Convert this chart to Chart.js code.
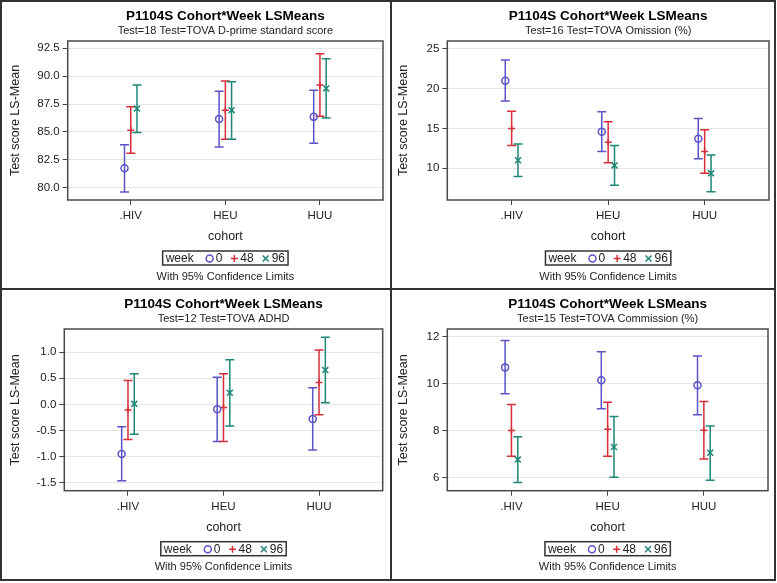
<!DOCTYPE html>
<html>
<head>
<meta charset="utf-8">
<script src="https://cdn.jsdelivr.net/npm/chart.js@4.4.1/dist/chart.umd.min.js"></script>
<style>
  body { margin: 0; background: #fff; }
  #wrap { position: relative; width: 777px; height: 583px; }
  #wrap canvas { position: absolute; }
  .rule { position: absolute; background: #333; }
</style>
</head>
<body>
<div id="wrap">
  <canvas id="c1" width="390" height="288" style="left:0;top:0"></canvas>
  <canvas id="c2" width="389" height="288" style="left:388px;top:0"></canvas>
  <canvas id="c3" width="390" height="292" style="left:0;top:288px"></canvas>
  <canvas id="c4" width="389" height="292" style="left:388px;top:288px"></canvas>
  <div class="rule" style="left:0;top:0;width:776px;height:2px"></div>
  <div class="rule" style="left:0;top:579px;width:776px;height:2px"></div>
  <div class="rule" style="left:0;top:0;width:2px;height:581px"></div>
  <div class="rule" style="left:774px;top:0;width:2px;height:581px"></div>
  <div class="rule" style="left:390px;top:0;width:2px;height:581px"></div>
  <div class="rule" style="left:0;top:288px;width:776px;height:2px"></div>
</div>
<script>
const cohorts = ['.HIV', 'HEU', 'HUU'];
const weeks = ['0', '48', '96'];
const titleText = 'P1104S Cohort*Week LSMeans';

// rows: week 0, 48, 96 -- columns: .HIV, HEU, HUU
const dprimeMean  = [[81.75, 86.15, 86.35], [85.15, 86.95, 89.2], [87.1, 86.95, 88.9]];
const dprimeLower = [[79.62, 83.65, 83.98], [83.1, 84.35, 86.4], [84.95, 84.35, 86.25]];
const dprimeUpper = [[83.85, 88.65, 88.73], [87.25, 89.57, 92.0], [89.2, 89.5, 91.55]];
const dprimeTicks = [80, 82.5, 85, 87.5, 90, 92.5];

const omissionMean  = [[21.0, 14.6, 13.7], [15.0, 13.25, 12.1], [11.0, 10.35, 9.35]];
const omissionLower = [[18.45, 12.1, 11.2], [12.85, 10.7, 9.35], [8.95, 7.85, 7.05]];
const omissionUpper = [[23.6, 17.1, 16.25], [17.15, 15.85, 14.85], [13.05, 12.85, 11.65]];
const omissionTicks = [10, 15, 20, 25];

const adhdMean  = [[-0.95, -0.095, -0.28], [-0.11, -0.06, 0.42], [0.01, 0.22, 0.655]];
const adhdLower = [[-1.46, -0.71, -0.87], [-0.67, -0.71, -0.2], [-0.57, -0.415, 0.03]];
const adhdUpper = [[-0.43, 0.52, 0.315], [0.455, 0.585, 1.04], [0.585, 0.85, 1.28]];
const adhdTicks = [-1.5, -1, -0.5, 0, 0.5, 1];

const commissionMean  = [[10.7, 10.15, 9.94], [8.0, 8.06, 8.01], [6.76, 7.3, 7.05]];
const commissionLower = [[9.57, 8.93, 8.68], [6.9, 6.9, 6.78], [5.78, 6.0, 5.88]];
const commissionUpper = [[11.85, 11.37, 11.19], [9.11, 9.21, 9.24], [7.74, 8.6, 8.2]];
const commissionTicks = [6, 8, 10, 12];

const weekColors = ['#5b53c6', '#d52f3b', '#1d8676'];
const weekMarkers = ['circle', 'cross', 'crossRot'];
const markerSize = [3.5, 3.5, 4.2];
const dodge = [-0.066, 0, 0.066];

Chart.defaults.font.family = '"Liberation Sans", Arial, sans-serif';
Chart.defaults.color = '#222';

function drawMarker(ctx, style, r, x, y) {
  ctx.beginPath();
  if (style === 'circle') {
    ctx.arc(x, y, r, 0, Math.PI * 2);
  } else if (style === 'cross') {
    ctx.moveTo(x - r, y); ctx.lineTo(x + r, y);
    ctx.moveTo(x, y - r); ctx.lineTo(x, y + r);
  } else {
    const d = r * Math.SQRT1_2;
    ctx.moveTo(x - d, y - d); ctx.lineTo(x + d, y + d);
    ctx.moveTo(x - d, y + d); ctx.lineTo(x + d, y - d);
  }
  ctx.stroke();
}

const lsExtras = {
  id: 'lsExtras',
  beforeDatasetsDraw(chart) {
    const { ctx, chartArea: a, scales: { x, y } } = chart;
    ctx.save();
    ctx.lineWidth = 1.5;
    chart.data.datasets.forEach(ds => {
      ctx.strokeStyle = ds.borderColor;
      ds.data.forEach(d => {
        const px = x.getPixelForValue(d.x);
        const yt = y.getPixelForValue(d.hi);
        const yb = y.getPixelForValue(d.lo);
        ctx.beginPath();
        ctx.moveTo(px, yt); ctx.lineTo(px, yb);
        ctx.moveTo(px - 4.5, yt); ctx.lineTo(px + 4.5, yt);
        ctx.moveTo(px - 4.5, yb); ctx.lineTo(px + 4.5, yb);
        ctx.stroke();
      });
    });
    ctx.strokeStyle = '#4a4a4a';
    ctx.strokeRect(a.left, a.top, a.width, a.height);
    ctx.restore();
  },
  afterDraw(chart) {
    const { ctx, chartArea: a } = chart;
    const cx = (a.left + a.right) / 2;
    ctx.save();
    ctx.font = '12px "Liberation Sans", Arial, sans-serif';
    ctx.textBaseline = 'middle';
    const wWeek = ctx.measureText('week').width;
    const items = chart.data.datasets.map(ds => ({ ds, w: ctx.measureText(ds.label).width }));
    let total = 3 + wWeek + 12 + 3;
    items.forEach((it, i) => { total += 8 + 2 + it.w + (i ? 8 : 0); });
    const left = cx - total / 2;
    const top = a.bottom + 51;
    const midY = top + 7.5;
    ctx.strokeStyle = '#333';
    ctx.lineWidth = 1.5;
    ctx.strokeRect(left, top, total, 14);
    ctx.fillStyle = '#222';
    ctx.fillText('week', left + 3, midY);
    let xx = left + 3 + wWeek + 12;
    items.forEach((it, i) => {
      ctx.strokeStyle = it.ds.borderColor;
      ctx.lineWidth = 1.5;
      drawMarker(ctx, it.ds.pointStyle, it.ds.pointRadius, xx + 4, midY);
      ctx.fillStyle = '#222';
      ctx.fillText(it.ds.label, xx + 10, midY);
      xx += 10 + it.w + 8;
    });
    ctx.font = '11px "Liberation Sans", Arial, sans-serif';
    ctx.textAlign = 'center';
    ctx.fillText('With 95% Confidence Limits', cx, a.bottom + 76.5);
    ctx.restore();
  }
};

function makeChart(p) {
  const datasets = weeks.map((w, k) => ({
    label: w,
    data: cohorts.map((c, i) => ({
      x: i + 1 + dodge[k], y: p.mean[k][i], lo: p.lower[k][i], hi: p.upper[k][i]
    })),
    borderColor: weekColors[k],
    backgroundColor: 'rgba(0,0,0,0)',
    pointStyle: weekMarkers[k],
    pointRadius: markerSize[k],
    pointBorderWidth: 1.5
  }));

  new Chart(document.getElementById(p.id), {
    type: 'scatter',
    data: { datasets },
    options: {
      responsive: false,
      animation: false,
      layout: { padding: { top: 0, left: 0, right: p.padR, bottom: p.padB } },
      scales: {
        x: {
          type: 'linear',
          min: 1 / 3,
          max: 11 / 3,
          afterBuildTicks: s => { s.ticks = cohorts.map((c, i) => ({ value: i + 1 })); },
          afterFit: s => { s.height = 48; },
          ticks: { callback: (v, i) => cohorts[i], font: { size: 11.5 }, color: '#222', padding: 4, autoSkip: false, maxRotation: 0 },
          grid: { drawOnChartArea: false, tickLength: 5, color: '#444', lineWidth: 1 },
          border: { display: false },
          title: { display: true, text: 'cohort', font: { size: 12.5 }, color: '#222', padding: { top: 0, bottom: 4 } }
        },
        y: {
          min: p.yMin,
          max: p.yMax,
          afterBuildTicks: s => { s.ticks = p.ticks.map(v => ({ value: v })); },
          afterFit: s => { s.width = p.yw; },
          ticks: { callback: v => v.toFixed(p.dec), font: { size: 11.5 }, color: '#222', padding: 3 },
          grid: { color: '#e6e6e6', tickColor: '#444', tickLength: 5, lineWidth: 1 },
          border: { display: false },
          title: { display: true, text: 'Test score LS-Mean', font: { size: 12.5 }, color: '#222', padding: { top: 8.2, bottom: 0 } }
        }
      },
      plugins: {
        legend: { display: false },
        tooltip: { enabled: false },
        title: { display: true, fullSize: false, text: titleText, font: { size: 13.5, weight: 'bold' }, color: '#000', padding: { top: 7.9, bottom: 0 } },
        subtitle: { display: true, fullSize: false, text: p.sub, font: { size: 11 }, color: '#222', padding: { top: 0.3, bottom: 3.4 } }
      }
    },
    plugins: [lsExtras]
  });
}

makeChart({ id: 'c1', sub: 'Test=18 Test=TOVA D-prime standard score', mean: dprimeMean, lower: dprimeLower, upper: dprimeUpper,
  ticks: dprimeTicks, dec: 1, yMin: 78.9, yMax: 93.15, yw: 67.7, padR: 7, padB: 40 });
makeChart({ id: 'c2', sub: 'Test=16 Test=TOVA Omission (%)', mean: omissionMean, lower: omissionLower, upper: omissionUpper,
  ticks: omissionTicks, dec: 0, yMin: 6, yMax: 26, yw: 59.3, padR: 8, padB: 40 });
makeChart({ id: 'c3', sub: 'Test=12 Test=TOVA ADHD', mean: adhdMean, lower: adhdLower, upper: adhdUpper,
  ticks: adhdTicks, dec: 1, yMin: -1.65, yMax: 1.44, yw: 64.3, padR: 7.3, padB: 41.3 });
makeChart({ id: 'c4', sub: 'Test=15 Test=TOVA Commission (%)', mean: commissionMean, lower: commissionLower, upper: commissionUpper,
  ticks: commissionTicks, dec: 0, yMin: 5.43, yMax: 12.34, yw: 59.3, padR: 9, padB: 41.3 });
</script>
</body>
</html>
